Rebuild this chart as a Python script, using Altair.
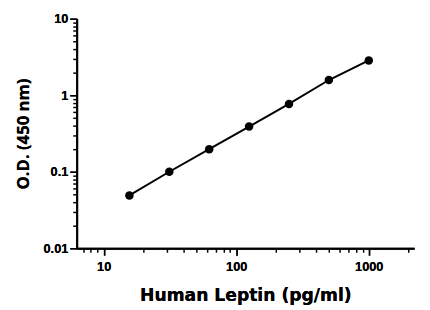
import altair as alt
import pandas as pd

conc = [15.625, 31.25, 62.5, 125, 250, 500, 1000]
od = [0.049, 0.10, 0.197, 0.39, 0.77, 1.58, 2.85]

x_major = [10, 100, 1000]
x_minor = [7, 8, 9, 20, 30, 40, 50, 60, 70, 80, 90, 200, 300, 400, 500,
           600, 700, 800, 900, 2000]
y_major = [0.01, 0.1, 1, 10]
y_minor = [0.02, 0.03, 0.04, 0.05, 0.06, 0.07, 0.08, 0.09, 0.2, 0.3, 0.4,
           0.5, 0.6, 0.7, 0.8, 0.9, 2, 3, 4, 5, 6, 7, 8, 9]

df = pd.DataFrame({"conc": conc, "od": od})

xscale = alt.Scale(type="log", domain=[6.25, 2200], nice=False)
yscale = alt.Scale(type="log", domain=[0.01, 10], nice=False)


def major_axis(title, values, orient, title_font, title_size, pad, label_pad):
    return alt.Axis(
        title=title,
        orient=orient,
        values=values,
        format="~g",
        tickSize=7,
        tickWidth=1.5,
        domainWidth=2,
        domainColor="black",
        tickColor="black",
        grid=False,
        labelFont="Liberation Sans",
        labelFontWeight="bold",
        labelFontSize=13,
        labelColor="black",
        labelPadding=label_pad,
        titleFont=title_font,
        titleFontWeight="bold",
        titleFontSize=title_size,
        titleColor="black",
        titlePadding=pad,
        labelFlush=False,
        labelOverlap=False,
    )


def minor_axis(values, orient):
    return alt.Axis(
        title=None,
        orient=orient,
        values=values,
        labels=False,
        tickSize=4,
        tickWidth=1.5,
        tickColor="black",
        domain=False,
        grid=False,
    )


main = alt.Chart(df).encode(
    x=alt.X("conc:Q", scale=xscale,
            axis=major_axis("Human Leptin (pg/ml)", x_major, "bottom",
                            "DejaVu Sans", 17.5, 13, 6)),
    y=alt.Y("od:Q", scale=yscale,
            axis=major_axis("O.D. (450 nm)", y_major, "left",
                            "Open Sans", 17, 11, 2)),
)

minor = alt.Chart(df).mark_point(opacity=0).encode(
    x=alt.X("conc:Q", scale=xscale, axis=minor_axis(x_minor, "bottom")),
    y=alt.Y("od:Q", scale=yscale, axis=minor_axis(y_minor, "left")),
)

chart = (
    alt.layer(
        minor,
        main.mark_line(color="black", strokeWidth=2),
        main.mark_circle(color="black", size=75, opacity=1),
    )
    .resolve_axis(x="independent", y="independent")
    .properties(
        width=344, height=234,
        autosize=alt.AutoSizeParams(type="none"),
        padding={"left": 70, "top": 8, "right": 8, "bottom": 60},
    )
    .configure_view(stroke=None)
)

chart.save("out.html", embed_options={"renderer": "svg", "actions": False})
